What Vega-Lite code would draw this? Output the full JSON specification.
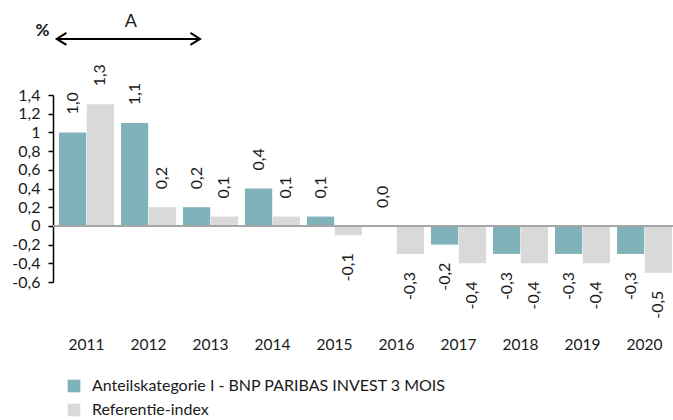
{
  "$schema": "https://vega.github.io/schema/vega-lite/v6.json",
  "width": 620,
  "height": 187,
  "autosize": "none",
  "padding": {"left": 53, "top": 95, "right": 0, "bottom": 138},
  "config": {
    "font": "Lato",
    "view": {"stroke": null},
    "locale": {"number": {"decimal": ",", "thousands": ".", "grouping": [3], "currency": ["€", ""], "minus": "-"}},
    "axis": {"labelColor": "#1a1a1a", "titleColor": "#1a1a1a", "grid": false},
    "axisY": {"labelOverlap": false, "domain": true, "ticks": true, "domainColor": "#000", "tickColor": "#000"}
  },
  "datasets": {
    "returns": [
      {"year": "2011", "series": "Anteilskategorie I - BNP PARIBAS INVEST 3 MOIS", "value": 1.0},
      {"year": "2011", "series": "Referentie-index", "value": 1.3},
      {"year": "2012", "series": "Anteilskategorie I - BNP PARIBAS INVEST 3 MOIS", "value": 1.1},
      {"year": "2012", "series": "Referentie-index", "value": 0.2},
      {"year": "2013", "series": "Anteilskategorie I - BNP PARIBAS INVEST 3 MOIS", "value": 0.2},
      {"year": "2013", "series": "Referentie-index", "value": 0.1},
      {"year": "2014", "series": "Anteilskategorie I - BNP PARIBAS INVEST 3 MOIS", "value": 0.4},
      {"year": "2014", "series": "Referentie-index", "value": 0.1},
      {"year": "2015", "series": "Anteilskategorie I - BNP PARIBAS INVEST 3 MOIS", "value": 0.1},
      {"year": "2015", "series": "Referentie-index", "value": -0.1},
      {"year": "2016", "series": "Anteilskategorie I - BNP PARIBAS INVEST 3 MOIS", "value": 0.0},
      {"year": "2016", "series": "Referentie-index", "value": -0.3},
      {"year": "2017", "series": "Anteilskategorie I - BNP PARIBAS INVEST 3 MOIS", "value": -0.2},
      {"year": "2017", "series": "Referentie-index", "value": -0.4},
      {"year": "2018", "series": "Anteilskategorie I - BNP PARIBAS INVEST 3 MOIS", "value": -0.3},
      {"year": "2018", "series": "Referentie-index", "value": -0.4},
      {"year": "2019", "series": "Anteilskategorie I - BNP PARIBAS INVEST 3 MOIS", "value": -0.3},
      {"year": "2019", "series": "Referentie-index", "value": -0.4},
      {"year": "2020", "series": "Anteilskategorie I - BNP PARIBAS INVEST 3 MOIS", "value": -0.3},
      {"year": "2020", "series": "Referentie-index", "value": -0.5}
    ],
    "arrowStart": [{"year": "2011", "value": 2.0}],
    "arrowEnd": [{"year": "2013", "value": 2.0}],
    "arrowLabel": [{"year": "2012", "value": 2.18, "label": "A"}]
  },
  "data": {"name": "returns"},
  "encoding": {
    "x": {
      "field": "year", "type": "nominal",
      "scale": {"paddingInner": 0.113, "paddingOuter": 0.056, "align": 0.86},
      "axis": {"title": null, "labelAngle": 0, "domain": false, "ticks": false, "labelPadding": 55, "labelFontSize": 15.5}
    },
    "y": {
      "field": "value", "type": "quantitative",
      "scale": {"domain": [-0.6, 1.4], "nice": false, "zero": false},
      "axis": {
        "values": [-0.6, -0.4, -0.2, 0, 0.2, 0.4, 0.6, 0.8, 1, 1.2, 1.4],
        "format": ".1~f", "labelFontSize": 16, "labelOverlap": false, "labelBound": false,
        "domainColor": "#000", "domainWidth": 1.5,
        "tickColor": "#000", "tickSize": 5, "tickWidth": 1.5, "labelPadding": 8,
        "title": "%", "titleAngle": 0, "titleX": -11, "titleY": -65, "titleAlign": "center",
        "titleBaseline": "middle", "titleFontSize": 17, "titleFontWeight": "bold"
      }
    }
  },
  "layer": [
    {
      "mark": {"type": "bar"},
      "encoding": {
        "xOffset": {"field": "series", "type": "nominal", "sort": ["Anteilskategorie I - BNP PARIBAS INVEST 3 MOIS", "Referentie-index"], "scale": {"paddingInner": 0.02}},
        "color": {
          "field": "series", "type": "nominal",
          "scale": {"domain": ["Anteilskategorie I - BNP PARIBAS INVEST 3 MOIS", "Referentie-index"], "range": ["#80b3b9", "#d9d9d9"]},
          "legend": {
            "title": null, "orient": "none", "legendX": 13, "legendY": 283, "direction": "vertical",
            "symbolType": "square", "symbolSize": 160, "symbolStrokeWidth": 0, "labelFontSize": 16,
            "labelColor": "#1a1a1a", "rowPadding": 8, "labelLimit": 500, "labelOffset": 10
          }
        }
      }
    },
    {
      "mark": {"type": "rule", "color": "#a6a6a6", "strokeWidth": 2},
      "encoding": {"y": {"datum": 0, "type": "quantitative"}, "x": null}
    },
    {
      "transform": [{"filter": "datum.value >= 0"}],
      "mark": {"type": "text", "angle": 270, "align": "left", "baseline": "middle", "dx": 18, "fontSize": 16, "color": "#1a1a1a"},
      "encoding": {
        "xOffset": {"field": "series", "type": "nominal", "sort": ["Anteilskategorie I - BNP PARIBAS INVEST 3 MOIS", "Referentie-index"], "scale": {"paddingInner": 0.02}},
        "text": {"field": "value", "type": "quantitative", "format": ".1f"}
      }
    },
    {
      "transform": [{"filter": "datum.value < 0"}],
      "mark": {"type": "text", "angle": 270, "align": "right", "baseline": "middle", "dx": -18, "fontSize": 16, "color": "#1a1a1a"},
      "encoding": {
        "xOffset": {"field": "series", "type": "nominal", "sort": ["Anteilskategorie I - BNP PARIBAS INVEST 3 MOIS", "Referentie-index"], "scale": {"paddingInner": 0.02}},
        "text": {"field": "value", "type": "quantitative", "format": ".1f"}
      }
    },
    {
      "data": {"name": "arrowStart"},
      "mark": {"type": "rule", "color": "#000", "strokeWidth": 2, "clip": false},
      "encoding": {
        "x": {"field": "year", "type": "nominal", "bandPosition": -0.04},
        "x2": {"datum": "2013", "bandPosition": 0.31}
      }
    },
    {
      "data": {"name": "arrowStart"},
      "mark": {"type": "point", "shape": "M1.6,-1L0,0L1.6,1", "size": 144, "filled": false, "stroke": "#000", "strokeWidth": 2, "opacity": 1, "clip": false},
      "encoding": {
        "x": {"field": "year", "type": "nominal", "bandPosition": -0.04}
      }
    },
    {
      "data": {"name": "arrowEnd"},
      "mark": {"type": "point", "shape": "M-1.6,-1L0,0L-1.6,1", "size": 144, "filled": false, "stroke": "#000", "strokeWidth": 2, "opacity": 1, "clip": false},
      "encoding": {
        "x": {"field": "year", "type": "nominal", "bandPosition": 0.31}
      }
    },
    {
      "data": {"name": "arrowLabel"},
      "mark": {"type": "text", "fontSize": 18, "color": "#1a1a1a", "align": "center", "baseline": "middle", "clip": false},
      "encoding": {
        "x": {"field": "year", "type": "nominal", "bandPosition": 0.18},
        "text": {"field": "label"}
      }
    }
  ]
}
